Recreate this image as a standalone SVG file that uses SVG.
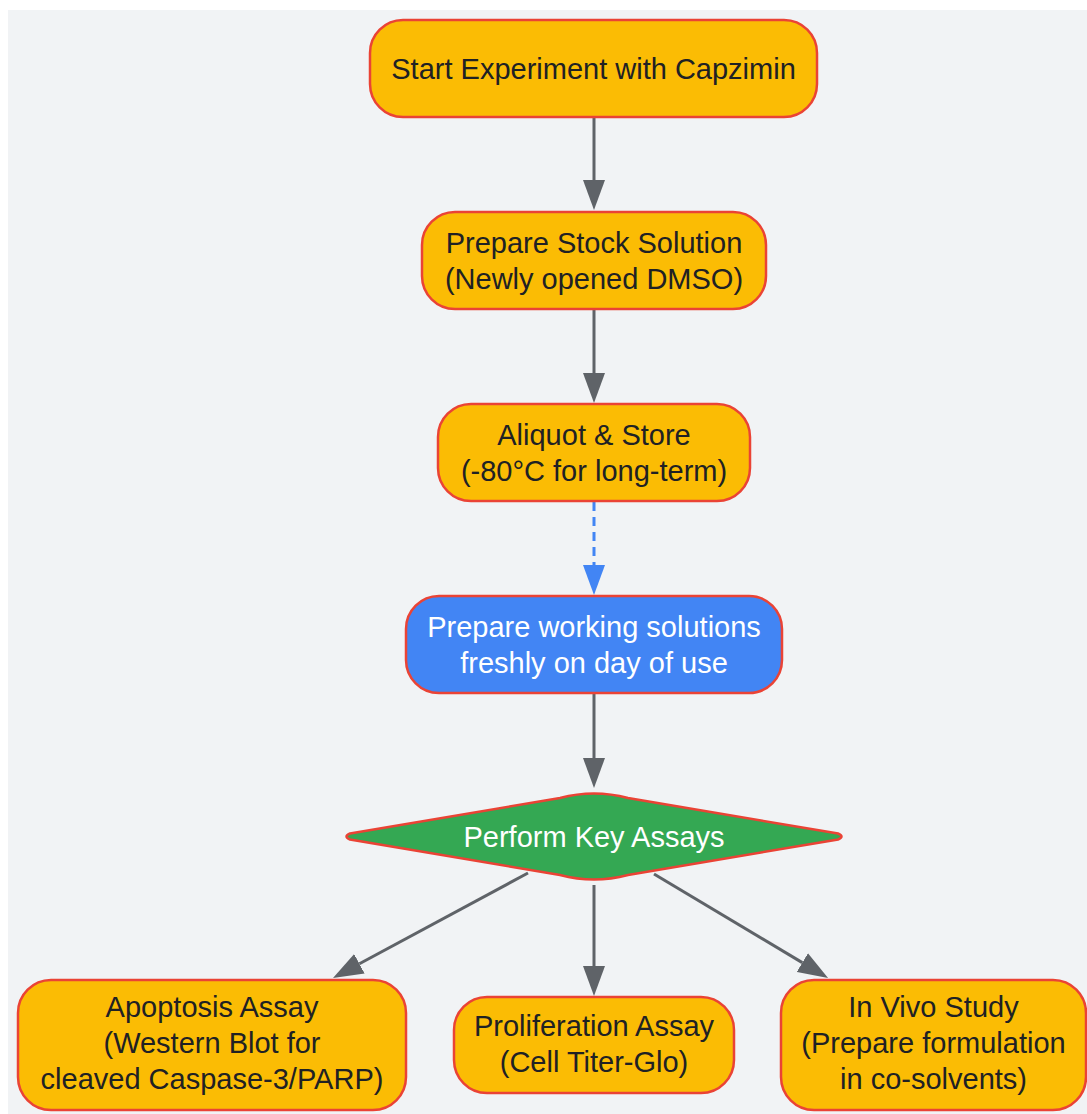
<svg xmlns="http://www.w3.org/2000/svg" width="1087" height="1114" viewBox="0 0 1087 1114">
<style>
.node{stroke:#ea4335;stroke-width:2.5}
.orange{fill:#fbbc04}
.blue{fill:#4285f4}
.green{fill:#34a853}
.t{font-family:"Liberation Sans",Arial,sans-serif;font-size:29px;text-anchor:middle;fill:#202124}
.w{fill:#ffffff}
.edge{fill:none;stroke:#5f6368;stroke-width:3}
.dash{fill:none;stroke:#4285f4;stroke-width:3;stroke-dasharray:9,6}
</style>
<defs>
<marker id="ah" viewBox="0 0 30 22" refX="0" refY="11" markerWidth="30" markerHeight="22" markerUnits="userSpaceOnUse" orient="auto">
<path d="M0,0 L30,11 L0,22 z" fill="#5f6368"/>
</marker>
<marker id="ahb" viewBox="0 0 30 22" refX="0" refY="11" markerWidth="30" markerHeight="22" markerUnits="userSpaceOnUse" orient="auto">
<path d="M0,0 L30,11 L0,22 z" fill="#4285f4"/>
</marker>
</defs>
<rect x="0" y="0" width="1087" height="1114" fill="#ffffff"/>
<rect x="8" y="10" width="1079" height="1104" fill="#f1f3f5"/>
<g id="connectors">
<line class="edge" x1="594" y1="117" x2="594" y2="180" marker-end="url(#ah)"/>
<line class="edge" x1="594" y1="309" x2="594" y2="373" marker-end="url(#ah)"/>
<line class="dash" x1="594" y1="502" x2="594" y2="565" marker-end="url(#ahb)"/>
<line class="edge" x1="594" y1="693" x2="594" y2="758" marker-end="url(#ah)"/>
<line class="edge" x1="528" y1="873" x2="359.4" y2="963.8" marker-end="url(#ah)"/>
<line class="edge" x1="594" y1="885" x2="594" y2="966" marker-end="url(#ah)"/>
<line class="edge" x1="654" y1="874" x2="802.3" y2="962.6" marker-end="url(#ah)"/>
</g>
<g id="start">
<rect class="node orange" x="370" y="20" width="447" height="97" rx="33"/>
<text class="t" x="593.5" y="79">Start Experiment with Capzimin</text>
</g>
<g id="stock">
<rect class="node orange" x="422" y="212" width="344" height="97" rx="33"/>
<text class="t" x="594" y="253">Prepare Stock Solution</text>
<text class="t" x="594" y="289">(Newly opened DMSO)</text>
</g>
<g id="aliquot">
<rect class="node orange" x="438" y="404" width="312" height="97" rx="33"/>
<text class="t" x="594" y="445">Aliquot &amp; Store</text>
<text class="t" x="594" y="481">(-80°C for long-term)</text>
</g>
<g id="working">
<rect class="node blue" x="406" y="596" width="376" height="97" rx="33"/>
<text class="t w" x="594" y="637">Prepare working solutions</text>
<text class="t w" x="594" y="673">freshly on day of use</text>
</g>
<g id="assays">
<path class="node green" d="M350,833.5 L560,798 Q594,789 628,798 L838,833.5 Q845,836.5 838,839.5 L628,875 Q594,884 560,875 L350,839.5 Q343,836.5 350,833.5 Z"/>
<text class="t w" x="594" y="847">Perform Key Assays</text>
</g>
<g id="apoptosis">
<rect class="node orange" x="18" y="980" width="388" height="130" rx="33"/>
<text class="t" x="212" y="1017">Apoptosis Assay</text>
<text class="t" x="212" y="1053">(Western Blot for</text>
<text class="t" x="212" y="1089">cleaved Caspase-3/PARP)</text>
</g>
<g id="proliferation">
<rect class="node orange" x="454" y="997" width="280" height="96" rx="33"/>
<text class="t" x="594" y="1036">Proliferation Assay</text>
<text class="t" x="594" y="1072">(Cell Titer-Glo)</text>
</g>
<g id="invivo">
<rect class="node orange" x="781" y="980" width="305" height="130" rx="33"/>
<text class="t" x="933.5" y="1017">In Vivo Study</text>
<text class="t" x="933.5" y="1053">(Prepare formulation</text>
<text class="t" x="933.5" y="1089">in co-solvents)</text>
</g>
</svg>
